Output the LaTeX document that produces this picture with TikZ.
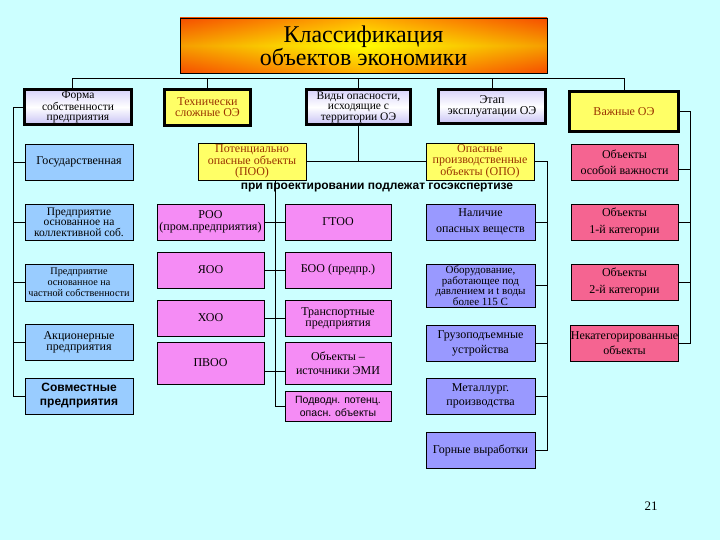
\documentclass[tikz,border=0pt]{standalone}
\usepackage{fontspec}
\setmainfont{Liberation Serif}
\setsansfont{Liberation Sans}
\usetikzlibrary{calc}
\definecolor{bg}{RGB}{204,255,255}
\definecolor{yel}{RGB}{255,255,102}
\definecolor{lblue}{RGB}{153,204,255}
\definecolor{peri}{RGB}{153,153,255}
\definecolor{pinkb}{RGB}{245,140,245}
\definecolor{redb}{RGB}{245,100,145}
\definecolor{brownt}{RGB}{153,51,0}
\definecolor{lavA}{RGB}{215,210,250}
\definecolor{lavB}{RGB}{200,195,245}
\definecolor{titR}{RGB}{235,40,0}
\definecolor{titO}{RGB}{255,110,0}
\newcommand{\fz}[2]{\fontsize{#1}{#2}\selectfont}
\begin{document}
\begin{tikzpicture}[x=1pt,y=-1pt,
  base/.style={draw=black, line width=0.8pt, inner sep=0pt, align=center, text=black, font=\fz{12}{12}},
  topbox/.style={base, line width=3pt},
  lav/.style={topbox, top color=lavA, bottom color=lavB, middle color=white},
  yb/.style={fill=yel, text=brownt},
  lb/.style={base, fill=lblue, minimum width=108, minimum height=36},
  pk/.style={base, fill=pinkb, minimum height=36},
  pkl/.style={pk, minimum width=107},
  pkr/.style={pk, minimum width=106},
  bl/.style={base, fill=peri, minimum width=109, minimum height=36},
  rd/.style={base, fill=redb, minimum width=107, minimum height=36},
  con/.style={draw=black, line width=0.8pt}
]
\useasboundingbox (0,0) rectangle (720,540);
\fill[bg] (0,0) rectangle (720,540);

% title
\shade[left color=titR, right color=titR, middle color=yellow] (180,18) rectangle (547,73);
\shade[top color=titO, bottom color=titO, middle color=yellow, opacity=0.55] (180,18) rectangle (547,73);
\node[draw=black, line width=0.8pt, minimum width=367, minimum height=55, inner sep=0pt, align=center, font=\fz{24}{22}] (title) at (363.5,45.5) {Классификация\\объектов экономики};

% top row
\node[lav, minimum width=107, minimum height=35, font=\fz{11.5}{10.5}] (forma) at (78,107) {Форма\\собственности\\предприятия};
\node[topbox, yb, minimum width=86, minimum height=36, font=\fz{12}{11}] (tech) at (207.5,107.5) {Технически\\сложные ОЭ};
\node[lav, minimum width=104, minimum height=35, font=\fz{11.5}{10}] (vidy) at (358.5,107) {Виды опасности,\\исходящие с\\территории ОЭ};
\node[lav, minimum width=107, minimum height=34, font=\fz{12}{10.5}] (etap) at (492,106.5) {Этап\\эксплуатации ОЭ};
\node[topbox, yb, minimum width=109, minimum height=40] (vazh) at (624,111.5) {Важные ОЭ};

% left column
\node[lb] (gos) at (79,162) {Государственная};
\node[lb, font=\fz{11.5}{10.5}] (koll) at (79,222) {Предприятие\\основанное на\\коллективной соб.};
\node[lb, minimum height=37, font=\fz{10.2}{11}] (chast) at (79,282.5) {Предприятие\\основанное на\\частной собственности};
\node[lb, font=\fz{12}{11}] (akc) at (79,342) {Акционерные\\предприятия};
\node[lb, font=\sffamily\bfseries\fz{12}{14}] (sov) at (79,396) {Совместные\\предприятия};

% POO / OPO
\node[base, yb, minimum width=108, minimum height=37, font=\fz{12}{11.5}] (poo) at (252,161.5) {Потенциально\\опасные объекты\\(ПОО)};
\node[base, yb, minimum width=108, minimum height=37, font=\fz{12}{11}] (opo) at (480,161.5) {Опасные\\производственные\\объекты (ОПО)};
\node[inner sep=0pt, font=\sffamily\bfseries\fz{12}{12}] (note) at (377,188) {при проектировании подлежат госэкспертизе};

% pink columns
\node[pkl] (roo) at (210.5,222) {РОО\\(пром.предприятия)};
\node[pkl] (yaoo) at (210.5,270) {ЯОО};
\node[pkl] (hoo) at (210.5,318) {ХОО};
\node[pkl, minimum height=42] (pvoo) at (210.5,363) {ПВОО};
\node[pkr] (gtoo) at (338,222) {ГТОО};
\node[pkr] (boo) at (338,270) {БОО (предпр.)};
\node[pkr, font=\fz{12}{11}] (trans) at (338,318) {Транспортные\\предприятия};
\node[pkr, minimum height=42, font=\fz{12}{14}] (emi) at (338,363) {Объекты –\\источники ЭМИ};
\node[pkr, minimum height=30, font=\sffamily\fz{10.5}{13}] (podv) at (338,406) {Подводн. потенц.\\опасн. объекты};

% blue column
\node[bl, font=\fz{12}{16}] (nal) at (480.5,222) {Наличие\\опасных веществ};
\node[bl, minimum height=43, font=\fz{11}{10}] (obor) at (480.5,285.5) {Оборудование,\\работающее под\\давлением и t воды\\более 115 С};
\node[bl, font=\fz{12}{15}] (gruz) at (480.5,343) {Грузоподъемные\\устройства};
\node[bl, font=\fz{12}{14}] (met) at (480.5,396) {Металлург.\\производства};
\node[bl] (gor) at (480.5,450) {Горные выработки};

% red column
\node[rd, font=\fz{12}{16}] (osob) at (624.5,162) {Объекты\\особой важности};
\node[rd, font=\fz{12}{17}] (cat1) at (624.5,222) {Объекты\\1-й категории};
\node[rd, font=\fz{12}{17}] (cat2) at (624.5,282) {Объекты\\2-й категории};
\node[rd, font=\fz{12}{15}] (nekat) at (624.5,343) {Некатегорированные\\объекты};

\node[inner sep=0pt, font=\fz{13}{14}] (pg) at (651,506) {21};

% connectors: top bus
\coordinate (bus) at (0,78);
\draw[con] ([xshift=-6pt]forma.north) -- ([xshift=-6pt]forma.north |- bus) -- (vazh.north |- bus) -- (vazh.north);
\draw[con] (tech.north) -- (tech.north |- bus);
\draw[con] (vidy.north) -- (vidy.north |- bus);
\draw[con] (etap.north) -- (etap.north |- bus);

% left spine
\draw[con] (forma.west) -- ++(-10,0) |- (sov.west);
\foreach \n in {gos,koll,chast,akc} \draw[con] (\n.west) -- ++(-12,0);

% vidy to POO/OPO
\draw[con] (vidy.south) -- (vidy.south |- poo.east);
\draw[con] (poo.east) -- (opo.west);

% middle spine
\draw[con] ([xshift=23pt]poo.south) |- (podv.west);
\draw[con] (roo.east) -- (gtoo.west);
\draw[con] (yaoo.east) -- (boo.west);
\draw[con] (hoo.east) -- (trans.west);
\draw[con] ([yshift=-8pt]pvoo.east) -- ([yshift=-8pt]emi.west);

% blue spine
\draw[con] (opo.east) -- ++(13,0) |- (gor.east);
\foreach \n in {nal,obor,gruz,met} \draw[con] (\n.east) -- ++(12,0);

% red spine
\draw[con] (vazh.east) -- ++(10,0) |- (nekat.east);
\draw[con] ([yshift=-7pt]osob.east) -- ++(12,0);
\foreach \n in {cat1,cat2} \draw[con] (\n.east) -- ++(12,0);
\end{tikzpicture}
\end{document}
